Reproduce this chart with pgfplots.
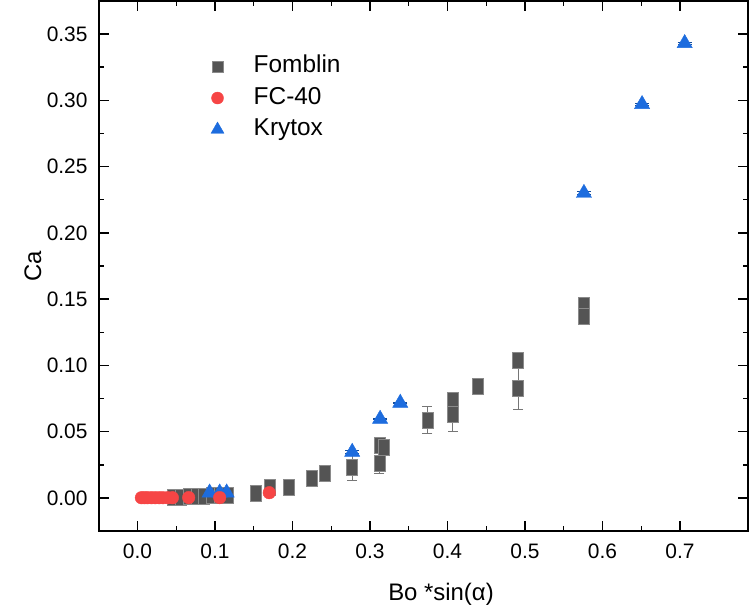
\documentclass[border=0pt]{standalone}
\usepackage{fontspec}
\setmainfont{Liberation Sans}
\usepackage{pgfplots}
\pgfplotsset{compat=1.18}
\definecolor{fomb}{HTML}{545454}
\definecolor{fombedge}{HTML}{8A8A8A}
\definecolor{fcred}{HTML}{F64545}
\definecolor{kryblue}{HTML}{1D6CDE}

\pgfplotstableread{
x      y       e
0.046  0.0005  0.0003
0.056  0.0008  0.0003
0.066  0.0010  0.0004
0.076  0.0012  0.0004
0.086  0.0015  0.0005
0.096  0.0018  0.0005
0.106  0.0020  0.0005
0.116  0.0022  0.0005
0.153  0.0038  0.0020
0.171  0.0083  0.0010
0.195  0.0083  0.0010
0.225  0.0151  0.0010
0.242  0.0189  0.0030
0.277  0.0234  0.0100
0.312  0.0400  0.0020
0.318  0.0385  0.0030
0.312  0.0264  0.0080
0.374  0.0588  0.0100
0.407  0.0740  0.0030
0.407  0.0630  0.0130
0.439  0.0845  0.0020
0.491  0.1040  0.0020
0.491  0.0830  0.0160
0.576  0.1450  0.0020
0.576  0.1370  0.0020
}\fomblin

\pgfplotstableread{
x      y       e
0.005  0.0002  0.0003
0.009  0.0002  0.0003
0.013  0.0002  0.0003
0.018  0.0002  0.0003
0.023  0.0002  0.0003
0.028  0.0002  0.0003
0.033  0.0002  0.0003
0.039  0.0002  0.0003
0.045  0.0002  0.0003
0.066  0.0003  0.0020
0.106  0.0003  0.0020
0.170  0.0040  0.0020
}\fcforty

\pgfplotstableread{
x      y       e
0.093  0.0040  0.0010
0.106  0.0040  0.0010
0.115  0.0040  0.0010
0.277  0.0347  0.0010
0.313  0.0596  0.0005
0.339  0.0717  0.0005
0.576  0.2300  0.0010
0.651  0.2970  0.0010
0.706  0.3430  0.0005
}\krytox

\begin{document}
\begin{tikzpicture}
\begin{axis}[
    scale only axis,
    width=649bp, height=530bp,
    xmin=-0.0497, xmax=0.7877,
    ymin=-0.0249, ymax=0.3749,
    xtick={0,0.1,0.2,0.3,0.4,0.5,0.6,0.7},
    ytick={0,0.05,0.1,0.15,0.2,0.25,0.3,0.35},
    minor x tick num=1, minor y tick num=1,
    tick align=inside,
    major tick length=10bp, minor tick length=5bp,
    axis line style={line width=1.4bp},
    every tick/.style={line width=1.4bp, black},
    /pgf/number format/assume math mode=true,
    xticklabel style={font=\fontsize{21}{23}\selectfont, yshift=-9bp,
        /pgf/number format/fixed, /pgf/number format/fixed zerofill,
        /pgf/number format/precision=1},
    yticklabel style={font=\fontsize{21}{23}\selectfont, xshift=-8bp,
        /pgf/number format/fixed, /pgf/number format/fixed zerofill,
        /pgf/number format/precision=2},
    scaled y ticks=false, scaled x ticks=false,
    xlabel={Bo *sin(α)},
    ylabel={Ca},
    every axis x label/.style={at={(axis description cs:0.527,0)}, anchor=center,
        yshift=-63bp, font=\fontsize{24}{26}\selectfont},
    every axis y label/.style={at={(axis description cs:0,0.5)}, anchor=center,
        xshift=-66bp, rotate=90, font=\fontsize{24}{26}\selectfont},
    legend style={draw=none, fill=none, at={(axis description cs:0.162,0.905)},
        anchor=north west, font=\fontsize{24.5}{26}\selectfont, row sep=5.5bp,
        nodes={text height=17bp, text depth=5bp, inner sep=2bp}},
    legend cell align=left,
    legend image code/.code={
        \path (-10bp,0bp) (34bp,0bp);
        \draw[#1] plot coordinates {(0bp,0bp)};
    },
    clip=false,
]
\coordinate (sw) at (rel axis cs:0,0);
\coordinate (ne) at (rel axis cs:1,1);

% legend entries (order as in the reference)
\addlegendimage{only marks, mark=square*, mark size=5.5bp,
    mark options={fill=fomb, draw=fombedge, line width=0.6bp}}
\addlegendentry{Fomblin}
\addlegendimage{only marks, mark=*, mark size=6bp,
    mark options={fill=fcred, draw=fcred}}
\addlegendentry{FC-40}
\addlegendimage{only marks, mark=triangle*, mark size=7.5bp,
    mark options={fill=kryblue, draw=kryblue}}
\addlegendentry{Krytox}

% Fomblin
\addplot[forget plot, only marks, mark=square*, mark size=5.5bp,
    mark options={fill=fomb, draw=fombedge, line width=0.6bp, yscale=1.45},
    error bars/.cd, y dir=both, y explicit,
    error bar style={color=fomb!80, line width=1bp},
    error mark options={rotate=90, mark size=5bp, color=fomb!80, line width=1bp}]
    table[x=x, y=y, y error=e] {\fomblin};

% Krytox
\addplot[forget plot, only marks, mark=triangle*, mark size=8.8bp,
    mark options={fill=kryblue, draw=kryblue},
    error bars/.cd, y dir=both, y explicit,
    error bar style={color=kryblue!70!black, line width=0.8bp},
    error mark options={rotate=90, mark size=7bp, color=kryblue!70!black, line width=0.8bp}]
    table[x=x, y=y, y error=e] {\krytox};

% FC-40 drawn last, on top
\addplot[forget plot, only marks, mark=*, mark size=6.3bp,
    mark options={fill=fcred, draw=fcred},
    error bars/.cd, y dir=both, y explicit,
    error bar style={color=fcred!70!black, line width=0.8bp},
    error mark options={rotate=90, mark size=4bp, color=fcred!70!black, line width=0.8bp}]
    table[x=x, y=y, y error=e] {\fcforty};
\end{axis}
\pgfresetboundingbox
\path[use as bounding box] ([xshift=-99bp,yshift=-82bp]sw) rectangle ([xshift=1bp,yshift=1bp]ne);
\end{tikzpicture}
\end{document}
